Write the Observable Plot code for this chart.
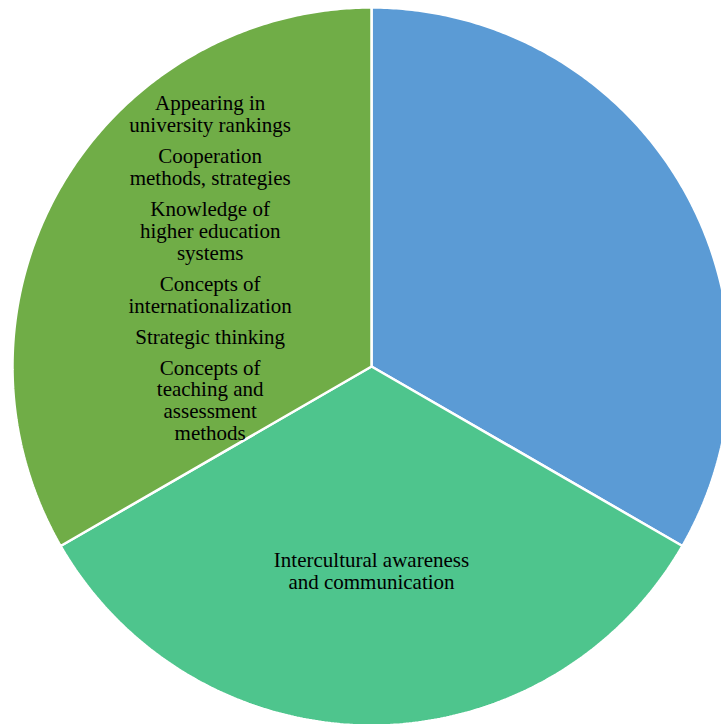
<!DOCTYPE html>
<html><head><meta charset="utf-8">
<script src="https://cdn.jsdelivr.net/npm/d3@7"></script>
<script src="https://cdn.jsdelivr.net/npm/@observablehq/plot@0.6"></script>
<style>html,body{margin:0;padding:0;background:#fff;overflow:hidden}</style>
</head><body><div id="chart"></div>
<script>
// ---- data ----
const sliceNames = ["Other competences", "Intercultural awareness and communication", "Professional knowledge"];
const sliceValues = [1, 1, 1];
const sliceColors = ["#5B9BD5", "#4EC58D", "#70AD47"];
const sliceLabels = [
  [],
  [["Intercultural awareness", "and communication"]],
  [
    ["Appearing in", "university rankings"],
    ["Cooperation", "methods, strategies"],
    ["Knowledge of", "higher education", "systems"],
    ["Concepts of", "internationalization"],
    ["Strategic thinking"],
    ["Concepts of", "teaching and", "assessment", "methods"]
  ]
];

// ---- layout ----
const W = 721, H = 724, cx = 371, cy = 366, R = 359;
const labelRadius = [0.5, 0.572, 0.527];
const labelShift = [[0, 0], [0, -0.5], [2.5, -3.5]]; // px
const lineStep = 21.9, itemGap = 9.1;
const FONT = "'Liberation Serif', 'Times New Roman', Times, serif";

const arcs = d3.pie().sort(null).value(d => d)(sliceValues);

const marks = [];
arcs.forEach((a, i) => {
  const pts = [{x: 0, y: 0}];
  const N = 240;
  for (let k = 0; k <= N; k++) {
    const t = a.startAngle + (a.endAngle - a.startAngle) * k / N;
    pts.push({x: Math.sin(t), y: Math.cos(t)});
  }
  pts.push({x: 0, y: 0});
  marks.push(Plot.line(pts, {x: "x", y: "y", fill: sliceColors[i], stroke: "white", strokeWidth: 2.5, strokeLinejoin: "miter", curve: "linear"}));
});

const textLines = [];
arcs.forEach((a, i) => {
  const items = sliceLabels[i];
  if (!items.length) return;
  const mid = (a.startAngle + a.endAngle) / 2;
  const ax = Math.sin(mid) * labelRadius[i] + labelShift[i][0] / R;
  const ay = Math.cos(mid) * labelRadius[i] - labelShift[i][1] / R;
  const rows = [];
  let off = 0;
  items.forEach((item, j) => {
    if (j > 0) off += lineStep + itemGap;
    item.forEach((line, k) => {
      if (k > 0) off += lineStep;
      rows.push({text: line, off});
    });
  });
  const total = off;
  rows.forEach(r => textLines.push({text: r.text, x: ax, y: ay - (r.off - total / 2) / R}));
});

marks.push(Plot.text(textLines, {
  x: "x", y: "y", text: "text",
  fontFamily: FONT, fontSize: 21, fill: "black",
  textAnchor: "middle", lineAnchor: "middle"
}));

const chart = Plot.plot({
  width: W, height: H, margin: 0,
  x: {domain: [-cx / R, (W - cx) / R], range: [0, W], axis: null},
  y: {domain: [-(H - cy) / R, cy / R], range: [H, 0], axis: null},
  style: {background: "white", fontFamily: FONT},
  marks
});
document.getElementById("chart").appendChild(chart);
</script>
</body></html>
